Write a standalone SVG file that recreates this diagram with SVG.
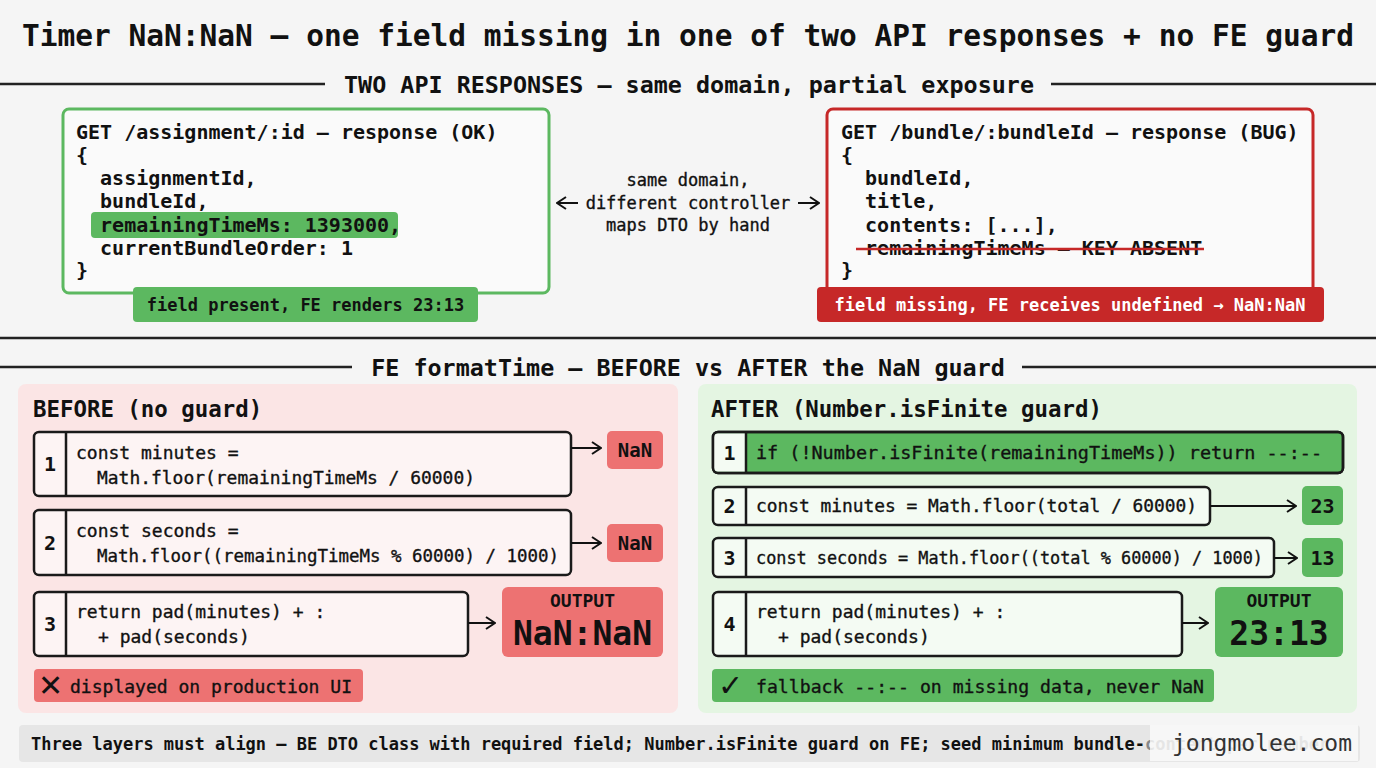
<svg xmlns="http://www.w3.org/2000/svg" width="1376" height="768" viewBox="0 0 1376 768">
<defs>
<style>
text{font-family:"DejaVu Sans Mono","Liberation Mono",monospace;fill:#111}
.b{font-weight:bold}
.t{font-size:29.5px;font-weight:bold}
.sec{font-size:23.4px;font-weight:bold}
.code{font-size:20px;font-weight:bold}
.mid{font-size:17px;stroke:#111;stroke-width:0.35}
.lbl{font-size:17px;font-weight:bold}
.step{font-size:18px;stroke:#111;stroke-width:0.35}
.num{font-size:20px;font-weight:bold}
.big{font-size:33px;font-weight:bold}
.out{font-size:18px;font-weight:bold}
.icon{font-family:"DejaVu Sans",sans-serif;font-size:30px;font-weight:bold}
.rule{stroke:#222;stroke-width:2.5}
.box{stroke:#1a1a1a;stroke-width:2.5}
.con{stroke:#111;stroke-width:2;fill:none}
</style>
<marker id="arr" viewBox="0 0 12 14" refX="11" refY="7" markerWidth="12" markerHeight="14" markerUnits="userSpaceOnUse" orient="auto">
<path d="M2,1 L11,7 L2,13" fill="none" stroke="#111" stroke-width="2"/>
</marker>
</defs>
<rect x="0" y="0" width="1376" height="768" fill="#f5f5f5"/>

<g id="title">
<text class="t" x="688" y="46" text-anchor="middle">Timer NaN:NaN — one field missing in one of two API responses + no FE guard</text>
</g>

<g id="section1">
<line class="rule" x1="0" y1="84" x2="325" y2="84"/>
<line class="rule" x1="1051" y1="84" x2="1376" y2="84"/>
<text class="sec" x="689" y="92.5" text-anchor="middle">TWO API RESPONSES — same domain, partial exposure</text>
</g>

<g id="assignment-response">
<rect x="63" y="109" width="486" height="184" rx="6" fill="#fafafa" stroke="#5cb860" stroke-width="3"/>
<rect x="91" y="212" width="307" height="26" rx="4" fill="#5cb860"/>
<text class="code" x="76" y="139">GET /assignment/:id — response (OK)</text>
<text class="code" x="76" y="162">{</text>
<text class="code" x="76" y="185" xml:space="preserve">  assignmentId,</text>
<text class="code" x="76" y="208" xml:space="preserve">  bundleId,</text>
<text class="code" x="76" y="231.5" xml:space="preserve">  remainingTimeMs: 1393000,</text>
<text class="code" x="76" y="255" xml:space="preserve">  currentBundleOrder: 1</text>
<text class="code" x="76" y="277">}</text>
<rect x="133" y="287" width="345" height="35" rx="4" fill="#5cb860"/>
<text class="lbl" x="305.5" y="311" text-anchor="middle">field present, FE renders 23:13</text>
</g>

<g id="bundle-response">
<rect x="827" y="109" width="486" height="192" rx="6" fill="#fafafa" stroke="#c62828" stroke-width="3"/>
<text class="code" x="841" y="139">GET /bundle/:bundleId — response (BUG)</text>
<text class="code" x="841" y="162">{</text>
<text class="code" x="841" y="185" xml:space="preserve">  bundleId,</text>
<text class="code" x="841" y="208" xml:space="preserve">  title,</text>
<text class="code" x="841" y="231.5" xml:space="preserve">  contents: [...],</text>
<text class="code" x="841" y="255" xml:space="preserve">  remainingTimeMs — KEY ABSENT</text>
<line x1="856" y1="249" x2="1204" y2="249" stroke="#c62828" stroke-width="2.5"/>
<text class="code" x="841" y="277">}</text>
<rect x="817" y="287" width="507" height="35" rx="4" fill="#c62828"/>
<text class="lbl" x="1070" y="311" text-anchor="middle" style="fill:#fff">field missing, FE receives undefined → NaN:NaN</text>
</g>

<g id="relation-note">
<text class="mid" x="688" y="186" text-anchor="middle">same domain,</text>
<text class="mid" x="688" y="209" text-anchor="middle">different controller</text>
<text class="mid" x="688" y="231" text-anchor="middle">maps DTO by hand</text>
</g>

<line class="rule" x1="0" y1="338" x2="1376" y2="338"/>

<g id="section2">
<line class="rule" x1="0" y1="367" x2="352" y2="367"/>
<line class="rule" x1="1022" y1="367" x2="1376" y2="367"/>
<text class="sec" x="688" y="375.5" text-anchor="middle">FE formatTime — BEFORE vs AFTER the NaN guard</text>
</g>

<g id="before-panel">
<rect x="18" y="384" width="660" height="329" rx="8" fill="#fbe5e5"/>
<text x="33" y="417" class="b" style="font-size:22.4px">BEFORE (no guard)</text>
</g>

<g id="before-step1">
<rect class="box" x="34" y="432" width="537" height="64" rx="5" fill="#fdf4f4"/>
<line class="box" x1="66" y1="432" x2="66" y2="496"/>
<text class="num" x="50" y="471" text-anchor="middle">1</text>
<text class="step" x="76" y="459">const minutes =</text>
<text class="step" x="97" y="484" textLength="378" lengthAdjust="spacingAndGlyphs">Math.floor(remainingTimeMs / 60000)</text>
</g>
<g id="before-nan1">
<rect x="607" y="431" width="56" height="38" rx="5" fill="#ed7272"/>
<text class="num" x="635" y="457" text-anchor="middle" style="font-size:19px">NaN</text>
</g>

<g id="before-step2">
<rect class="box" x="34" y="510" width="537" height="65" rx="5" fill="#fdf4f4"/>
<line class="box" x1="66" y1="510" x2="66" y2="575"/>
<text class="num" x="50" y="550" text-anchor="middle">2</text>
<text class="step" x="76" y="537">const seconds =</text>
<text class="step" x="97" y="562" textLength="462" lengthAdjust="spacingAndGlyphs">Math.floor((remainingTimeMs % 60000) / 1000)</text>
</g>
<g id="before-nan2">
<rect x="607" y="524" width="56" height="38" rx="5" fill="#ed7272"/>
<text class="num" x="635" y="550" text-anchor="middle" style="font-size:19px">NaN</text>
</g>

<g id="before-step3">
<rect class="box" x="34" y="592" width="434" height="64" rx="5" fill="#fdf4f4"/>
<line class="box" x1="66" y1="592" x2="66" y2="656"/>
<text class="num" x="50" y="631" text-anchor="middle">3</text>
<text class="step" x="76" y="618">return pad(minutes) + :</text>
<text class="step" x="98" y="643">+ pad(seconds)</text>
</g>
<g id="before-output">
<rect x="502" y="587" width="161" height="70" rx="6" fill="#ed7272"/>
<text class="out" x="582.5" y="607" text-anchor="middle">OUTPUT</text>
<text class="big" x="582.5" y="645" text-anchor="middle">NaN:NaN</text>
</g>
<g id="before-verdict">
<rect x="34" y="669" width="329" height="33" rx="4" fill="#ed7272"/>
<text class="icon" x="38" y="696">✕</text>
<text class="step" x="70" y="693" textLength="282" lengthAdjust="spacingAndGlyphs">displayed on production UI</text>
</g>

<g id="after-panel">
<rect x="698" y="384" width="659" height="329" rx="8" fill="#e4f5e2"/>
<text x="711" y="417" class="b" style="font-size:22.4px">AFTER (Number.isFinite guard)</text>
</g>

<g id="after-step1">
<rect class="box" x="713" y="432" width="630" height="41" rx="5" fill="#5cb860"/>
<path d="M746,433.25 H718 a4,4 0 0 0 -4,4 V467.75 a4,4 0 0 0 4,4 H746 Z" fill="#f4fbf3"/>
<rect class="box" x="713" y="432" width="630" height="41" rx="5" fill="none"/>
<line class="box" x1="746" y1="432" x2="746" y2="473"/>
<text class="num" x="729.5" y="459.5" text-anchor="middle">1</text>
<text class="step" x="756" y="459" textLength="566" lengthAdjust="spacingAndGlyphs">if (!Number.isFinite(remainingTimeMs)) return --:--</text>
</g>

<g id="after-step2">
<rect class="box" x="713" y="487" width="497" height="38" rx="5" fill="#f4fbf3"/>
<line class="box" x1="746" y1="487" x2="746" y2="525"/>
<text class="num" x="729.5" y="513" text-anchor="middle">2</text>
<text class="step" x="756" y="512" textLength="441" lengthAdjust="spacingAndGlyphs">const minutes = Math.floor(total / 60000)</text>
</g>
<g id="after-23">
<rect x="1302" y="486" width="41" height="39" rx="5" fill="#5cb860"/>
<text class="num" x="1322.5" y="512.5" text-anchor="middle">23</text>
</g>

<g id="after-step3">
<rect class="box" x="713" y="538" width="561" height="39" rx="5" fill="#f4fbf3"/>
<line class="box" x1="746" y1="538" x2="746" y2="577"/>
<text class="num" x="729.5" y="565" text-anchor="middle">3</text>
<text class="step" x="756" y="564" textLength="507" lengthAdjust="spacingAndGlyphs">const seconds = Math.floor((total % 60000) / 1000)</text>
</g>
<g id="after-13">
<rect x="1302" y="538" width="41" height="39" rx="5" fill="#5cb860"/>
<text class="num" x="1322.5" y="564.5" text-anchor="middle">13</text>
</g>

<g id="after-step4">
<rect class="box" x="713" y="592" width="469" height="64" rx="5" fill="#f4fbf3"/>
<line class="box" x1="746" y1="592" x2="746" y2="656"/>
<text class="num" x="729.5" y="631" text-anchor="middle">4</text>
<text class="step" x="756" y="618">return pad(minutes) + :</text>
<text class="step" x="778" y="643">+ pad(seconds)</text>
</g>
<g id="after-output">
<rect x="1215" y="587" width="128" height="70" rx="6" fill="#5cb860"/>
<text class="out" x="1279" y="607" text-anchor="middle">OUTPUT</text>
<text class="big" x="1279" y="645" text-anchor="middle">23:13</text>
</g>
<g id="after-verdict">
<rect x="712" y="669" width="502" height="33" rx="4" fill="#5cb860"/>
<text class="icon" x="718" y="696">✓</text>
<text class="step" x="756" y="693" textLength="448" lengthAdjust="spacingAndGlyphs">fallback --:-- on missing data, never NaN</text>
</g>

<g id="connectors">
<line class="con" x1="578" y1="203" x2="557" y2="203" marker-end="url(#arr)"/>
<line class="con" x1="798" y1="203" x2="819" y2="203" marker-end="url(#arr)"/>
<line class="con" x1="571" y1="448" x2="601" y2="448" marker-end="url(#arr)"/>
<line class="con" x1="571" y1="543" x2="601" y2="543" marker-end="url(#arr)"/>
<line class="con" x1="468" y1="623" x2="495" y2="623" marker-end="url(#arr)"/>
<line class="con" x1="1210" y1="506" x2="1296" y2="506" marker-end="url(#arr)"/>
<line class="con" x1="1274" y1="558" x2="1297" y2="558" marker-end="url(#arr)"/>
<line class="con" x1="1182" y1="623" x2="1208" y2="623" marker-end="url(#arr)"/>
</g>

<g id="footer">
<rect x="19" y="725" width="1341" height="37" rx="4" fill="#e6e6e6"/>
<text class="b" x="31" y="750" style="font-size:17px" textLength="1114" lengthAdjust="spacingAndGlyphs">Three layers must align — BE DTO class with required field; Number.isFinite guard on FE; seed minimum bundle-</text>
<text class="b" x="1145" y="750" style="font-size:17px;fill:#888">content per member</text>
</g>

<g id="watermark">
<rect x="1150" y="725" width="208" height="36" fill="#fafafa" fill-opacity="0.82"/>
<text x="1172" y="751" style="font-size:23px;fill:#333">jongmolee.com</text>
</g>
</svg>
